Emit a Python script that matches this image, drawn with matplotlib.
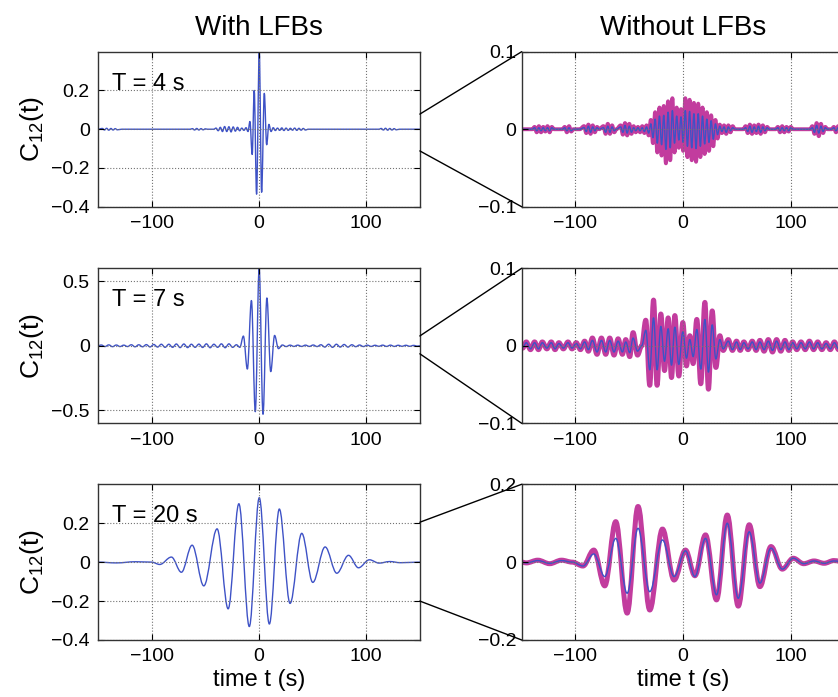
import matplotlib
matplotlib.use("Agg")
import matplotlib.pyplot as plt
from matplotlib.path import Path
from matplotlib.patches import PathPatch, ConnectionPatch
from matplotlib.ticker import FuncFormatter

plt.rcParams['font.family'] = ['Liberation Sans', 'DejaVu Sans']

# ---- data: extrema (time s, value) ----
# T = 4 s, with LFBs
t4_with = [-150, -146, -144, -142, -140, -138, -136, -134, -132, -128,
           -64, -62, -60, -58, -56, -54, -52, -50, -48,
           -42, -40, -38, -36, -34, -32, -30, -28, -26, -24, -22, -20, -18, -16, -14, -12, -10.2,
           -8.4, -6.3, -4.4, -2.2, 0.3, 2.5, 5.0, 7.2, 9.3, 11.3,
           13.3, 15.3, 17.3, 19.3, 21.3, 23.3, 25.3, 27.3, 29.3, 31.3, 33.3, 35.3, 37.3, 39.3, 41.3, 43.3, 46,
           112, 114, 116, 118, 120, 122, 124, 126, 128, 131, 150]
c4_with = [0, 0.004, -0.004, 0.005, -0.005, 0.004, -0.004, 0.003, -0.003, 0,
           0, 0.003, -0.004, 0.004, -0.004, 0.003, -0.003, 0.002, 0,
           0, 0.006, -0.008, 0.010, -0.012, 0.014, -0.012, 0.013, -0.014, 0.012, -0.010, 0.010, -0.008, 0.006, -0.006, 0.008, -0.012,
           0.04, -0.13, 0.20, -0.335, 0.40, -0.325, 0.185, -0.08, 0.025, -0.012,
           0.008, -0.007, 0.006, -0.006, 0.007, -0.007, 0.006, -0.006, 0.005, -0.005, 0.006, -0.006, 0.005, -0.005, 0.004, -0.004, 0,
           0, 0.004, -0.004, 0.005, -0.005, 0.004, -0.004, 0.003, -0.003, 0, 0]

# T = 4 s, without LFBs (magenta = thick, blue = thin)
t4_without = [-150, -140, -138, -136, -134, -132, -130, -128, -126, -124, -122, -120,
              -112, -110, -108, -106, -104, -102, -96,
              -92, -90, -88, -86, -84, -82, -80, -78,
              -74, -72, -70, -68, -66, -64, -62,
              -58, -56, -54, -52, -50, -48, -46, -44, -42, -40, -38, -36, -34,
              -32, -30, -28, -26, -24, -22, -20, -18, -16, -14, -12, -10, -8, -6, -4, -2, 0,
              2, 4, 6, 8, 10, 12, 14, 16, 18, 20, 22, 24, 26, 28, 30, 32, 34,
              36, 38, 40, 42, 44, 46, 48,
              56, 58, 60, 62, 64, 66, 68, 70, 72, 74, 76, 78, 80,
              86, 88, 90, 92, 94, 96, 98, 100, 102,
              118, 120, 122, 124, 126, 128, 130, 132, 134,
              138, 140, 142, 144, 146, 148, 150]
m4_without = [0, 0, 0.003, -0.004, 0.004, -0.004, 0.003, -0.003, 0.004, -0.004, 0.003, 0,
              0, 0.003, -0.004, 0.004, -0.003, 0, 0,
              0.004, -0.005, 0.006, -0.006, 0.005, -0.004, 0.003, 0,
              0.004, -0.006, 0.007, -0.006, 0.005, -0.004, 0,
              0.005, -0.007, 0.008, -0.008, 0.007, -0.006, 0.004, -0.004, 0.003, -0.004, 0.004, -0.005, 0.005,
              -0.008, 0.012, -0.018, 0.022, -0.030, 0.028, -0.034, 0.030, -0.044, 0.036, -0.040, 0.040, -0.030, 0.028, -0.024, 0.026, -0.028,
              0.040, -0.036, 0.038, -0.040, 0.034, -0.042, 0.033, -0.036, 0.028, -0.032, 0.022, -0.028, 0.018, -0.022, 0.012, -0.012, 0.006,
              -0.005, 0.005, -0.006, 0.005, -0.004, 0.004, 0,
              0, 0.004, -0.005, 0.006, -0.006, 0.005, -0.005, 0.006, -0.006, 0.005, -0.004, 0.003, 0,
              0, 0.003, -0.004, 0.004, -0.004, 0.003, -0.003, 0.003, 0,
              0, 0.004, -0.006, 0.008, -0.009, 0.007, -0.005, 0.003, 0,
              0, 0.003, -0.004, 0.004, -0.003, 0, 0]
b4_without = [0, 0, 0.002, -0.002, 0.002, -0.002, 0.002, -0.002, 0.002, -0.002, 0.002, 0,
              0, 0.002, -0.002, 0.002, -0.002, 0, 0,
              0.002, -0.003, 0.004, -0.004, 0.003, -0.002, 0.002, 0,
              0.002, -0.004, 0.004, -0.004, 0.003, -0.002, 0,
              0.003, -0.004, 0.005, -0.005, 0.004, -0.004, 0.002, -0.002, 0.002, -0.002, 0.002, -0.003, 0.003,
              -0.005, 0.007, -0.011, 0.013, -0.018, 0.017, -0.020, 0.018, -0.026, 0.022, -0.024, 0.024, -0.018, 0.017, -0.014, 0.016, -0.017,
              0.024, -0.022, 0.023, -0.024, 0.020, -0.025, 0.020, -0.022, 0.017, -0.019, 0.013, -0.017, 0.011, -0.013, 0.007, -0.007, 0.004,
              -0.003, 0.003, -0.004, 0.003, -0.002, 0.002, 0,
              0, 0.002, -0.003, 0.004, -0.004, 0.003, -0.003, 0.004, -0.004, 0.003, -0.002, 0.002, 0,
              0, 0.002, -0.002, 0.002, -0.002, 0.002, -0.002, 0.002, 0,
              0, 0.002, -0.004, 0.005, -0.005, 0.004, -0.003, 0.002, 0,
              0, 0.002, -0.002, 0.002, -0.002, 0, 0]

# T = 7 s, with LFBs
t7_with = [-150, -147, -143.5, -140, -136.5, -133, -129.5, -126, -122.5, -119, -115.5, -112, -108.5,
           -105, -101.5, -98, -94.5, -91, -87.5, -84, -80.5, -77, -73.5, -70, -66.5, -63, -59.5,
           -56, -52.5, -49, -45.5, -42, -38.5, -35, -31.5, -28, -24.5, -21, -17.8,
           -14.5, -10.8, -7.0, -3.4, 0.2, 3.8, 7.4, 11.0, 14.6, 18.2,
           21.8, 25.4, 29, 32.6, 36.2, 39.8, 43.4, 47, 50.6, 54.2, 57.8, 61.4, 65, 68.6, 72.2, 75.8,
           79.4, 83, 86.6, 90.2, 93.8, 97.4, 101, 104.6, 108.2, 111.8, 115.4, 119, 122.6, 126.2,
           129.8, 133.4, 137, 140.6, 144.2, 147.8, 150]
c7_with = [0, 0.006, -0.006, 0.007, -0.007, 0.006, -0.006, 0.005, -0.006, 0.008, -0.008, 0.008, -0.008,
           0.009, -0.009, 0.010, -0.010, 0.012, -0.012, 0.012, -0.012, 0.014, -0.014, 0.014, -0.014, 0.012, -0.012,
           0.013, -0.013, 0.015, -0.015, 0.012, -0.012, 0.015, -0.015, 0.015, -0.012, 0.008, -0.012,
           0.075, -0.18, 0.35, -0.51, 0.60, -0.53, 0.37, -0.20, 0.08, -0.022,
           0.006, -0.006, 0.005, -0.005, 0.005, -0.005, 0.005, -0.005, 0.006, -0.006, 0.008, -0.010, 0.012, -0.012, 0.012, -0.010,
           0.010, -0.010, 0.008, -0.007, 0.006, -0.006, 0.005, -0.005, 0.004, -0.004, 0.005, -0.005, 0.005, -0.005,
           0.004, -0.004, 0.004, -0.004, 0.003, -0.003, 0]

# T = 7 s, without LFBs
t7_without = [-150, -149, -145.7, -141.8, -138, -134.4, -130.8, -126.6, -122.5, -119, -115.4, -111.2,
              -107, -103.2, -99.3, -95.4, -91.5, -88, -84.3, -80, -75.9, -71.9, -68.2, -64.2, -60.4,
              -56.4, -53.3, -49.6, -46.5, -42.4, -38.5,
              -34.7, -31, -27.5, -24.2, -20.7, -17.3, -13.9, -10.8, -7.7, -4, -0.3, 3.1, 6.2, 9.3, 12.7,
              16.4, 20.2, 23.5, 27, 30.4, 34.1, 37.2,
              41.9, 45.8, 49.6, 53, 56.4, 60.3, 64.2, 67.8, 71.3, 75.2, 79.1, 83, 86.8, 90.7, 94.6, 98.2,
              101.7, 105.6, 109.5, 113.4, 117.3, 121.2, 125, 128.9, 132.8, 136.7, 140.5, 144.4, 148, 150]
m7_without = [0, -0.003, 0.005, -0.005, 0.005, -0.005, 0.005, -0.004, 0.005, -0.005, 0.004, -0.004,
              0.005, -0.004, 0.004, -0.005, 0.006, -0.007, 0.010, -0.011, 0.010, -0.011, 0.010, -0.012, 0.009,
              -0.011, 0.008, -0.014, 0.017, -0.012, 0.0,
              0.033, -0.051, 0.059, -0.051, 0.041, -0.032, 0.036, -0.041, 0.039, -0.039, 0.030, -0.026, 0.013, -0.023, 0.034,
              -0.049, 0.056, -0.056, 0.045, -0.028, 0.013, -0.006,
              0.008, -0.006, 0.006, -0.006, 0.005, -0.005, 0.006, -0.006, 0.007, -0.007, 0.008, -0.008, 0.008, -0.007, 0.007, -0.006,
              0.005, -0.005, 0.005, -0.005, 0.006, -0.005, 0.005, -0.005, 0.004, -0.005, 0.005, -0.005, 0.004, 0]
b7_without = [0, -0.002, 0.004, -0.004, 0.004, -0.004, 0.004, -0.003, 0.004, -0.004, 0.003, -0.003,
              0.004, -0.003, 0.003, -0.004, 0.005, -0.005, 0.007, -0.008, 0.007, -0.008, 0.007, -0.008, 0.006,
              -0.008, 0.005, -0.009, 0.010, -0.007, 0.0,
              0.020, -0.031, 0.036, -0.031, 0.025, -0.020, 0.022, -0.025, 0.024, -0.024, 0.018, -0.016, 0.008, -0.014, 0.021,
              -0.030, 0.034, -0.034, 0.027, -0.017, 0.008, -0.004,
              0.006, -0.005, 0.005, -0.005, 0.004, -0.004, 0.005, -0.005, 0.005, -0.005, 0.006, -0.006, 0.006, -0.005, 0.005, -0.005,
              0.004, -0.004, 0.004, -0.004, 0.005, -0.004, 0.004, -0.004, 0.003, -0.004, 0.004, -0.004, 0.003, 0]

# T = 20 s, with LFBs
t20_with = [-150, -133, -115, -100, -92.5, -81.6, -72.3, -62.3, -51.4, -39, -28.7, -18.7, -9, 0.3,
            9.7, 19, 29, 39.9, 50.2, 61.7, 72.6, 83.5, 92.8, 103, 112, 122, 132, 150]
c20_with = [0, -0.004, 0.002, 0, -0.012, 0.026, -0.052, 0.087, -0.122, 0.171, -0.240, 0.300, -0.331, 0.331,
            -0.318, 0.273, -0.212, 0.148, -0.104, 0.078, -0.057, 0.035, -0.029, 0.012, -0.005, 0.003, -0.003, 0]

# T = 20 s, without LFBs
t20_without = [-150, -145.7, -135, -124, -113, -103, -93, -83, -72.8, -62.6, -52, -41.9, -31, -19.2, -8.4,
               2.2, 10.9, 20.8, 31, 41, 51.2, 61.4, 71.3, 81.6, 92.1, 102.3, 112, 121.6, 131, 140, 150]
m20_without = [0, -0.002, 0.005, -0.004, 0.005, 0.0, -0.010, 0.031, -0.061, 0.104, -0.131, 0.143, -0.123, 0.085, -0.046,
               0.031, -0.035, 0.070, -0.097, 0.121, -0.113, 0.096, -0.063, 0.040, -0.018, 0.010, -0.004, 0.003, -0.003, 0.004, 0]
b20_without = [0, -0.002, 0.004, -0.003, 0.004, 0.0, -0.010, 0.021, -0.037, 0.061, -0.080, 0.087, -0.076, 0.057, -0.037,
               0.029, -0.037, 0.061, -0.084, 0.100, -0.093, 0.078, -0.054, 0.036, -0.018, 0.010, -0.004, 0.003, -0.003, 0.003, 0]

periods = ['T = 4 s', 'T = 7 s', 'T = 20 s']
left_ylim = [0.4, 0.6, 0.4]
left_yticks = [[-0.4, -0.2, 0, 0.2], [-0.5, 0, 0.5], [-0.4, -0.2, 0, 0.2]]
right_ylim = [0.1, 0.1, 0.2]
xticks = [-100, 0, 100]
# where the zoom lines leave the left panels (left-panel data units)
zoom_from = [(0.078, -0.112), (0.076, -0.062), (0.205, -0.2)]
magenta_lw = [2.8, 3.6, 3.6]

BLUE = '#3e52c6'
MAGENTA = '#c23c9e'


def wave(ax, t, c, color, lw):
    # smooth curve through the extrema (horizontal tangent at every point)
    if len(t) != len(c):
        raise ValueError('length mismatch %d %d' % (len(t), len(c)))
    verts = [(t[0], c[0])]
    codes = [Path.MOVETO]
    for i in range(1, len(t)):
        d = 0.36 * (t[i] - t[i - 1])
        verts += [(t[i - 1] + d, c[i - 1]), (t[i] - d, c[i]), (t[i], c[i])]
        codes += [Path.CURVE4] * 3
    ax.add_patch(PathPatch(Path(verts, codes), fill=False, edgecolor=color,
                           lw=lw, capstyle='round', joinstyle='round'))


def fmt(v, pos):
    return ('%g' % v).replace('-', '\u2212')


def style(ax):
    ax.set_xlim(-150, 150)
    ax.set_xticks(xticks)
    ax.xaxis.set_major_formatter(FuncFormatter(fmt))
    ax.yaxis.set_major_formatter(FuncFormatter(fmt))
    ax.grid(True, linestyle=':', color='0.45', lw=0.8)
    ax.tick_params(direction='in', length=4, top=True, right=True,
                   labelsize=14, pad=6)
    for s in ax.spines.values():
        s.set_color('0.2')
        s.set_linewidth(1.0)


fig = plt.figure(figsize=(8.38, 6.97), dpi=100)

bottoms = [0.7034, 0.3927, 0.0818]
heights = [0.2224, 0.2224, 0.2234]
left_data = [(t4_with, c4_with), (t7_with, c7_with), (t20_with, c20_with)]
right_data = [(t4_without, m4_without, b4_without),
              (t7_without, m7_without, b7_without),
              (t20_without, m20_without, b20_without)]

for row in range(3):
    axL = fig.add_axes([0.117, bottoms[row], 0.384, heights[row]])
    axR = fig.add_axes([0.6225, bottoms[row], 0.3854, heights[row]])

    t, c = left_data[row]
    wave(axL, t, c, BLUE, 1.0)
    style(axL)
    axL.set_ylim(-left_ylim[row], left_ylim[row])
    axL.set_yticks(left_yticks[row])
    axL.set_ylabel(r'C$_{\mathregular{12}}$(t)', fontsize=19, labelpad=4)
    axL.text(0.043, 0.755, periods[row], transform=axL.transAxes, fontsize=17)

    t, m, b = right_data[row]
    wave(axR, t, m, MAGENTA, magenta_lw[row])
    wave(axR, t, b, BLUE, 1.0)
    style(axR)
    yr = right_ylim[row]
    axR.set_ylim(-yr, yr)
    axR.set_yticks([-yr, 0, yr])
    axR.tick_params(axis='y', pad=4)

    # zoom lines from the left panel to the right panel corners
    for ya, yb in zip(zoom_from[row], (yr, -yr)):
        con = ConnectionPatch(xyA=(150, ya), coordsA=axL.transData,
                              xyB=(-150, yb), coordsB=axR.transData,
                              color='k', lw=1.0)
        fig.add_artist(con)

    if row == 0:
        axL.set_title('With LFBs', fontsize=20, pad=12)
        axR.set_title('Without LFBs', fontsize=20, pad=12)
    if row == 2:
        axL.set_xlabel('time t (s)', fontsize=17, labelpad=3)
        axR.set_xlabel('time t (s)', fontsize=17, labelpad=3)

fig.savefig('out.png', dpi=100)
